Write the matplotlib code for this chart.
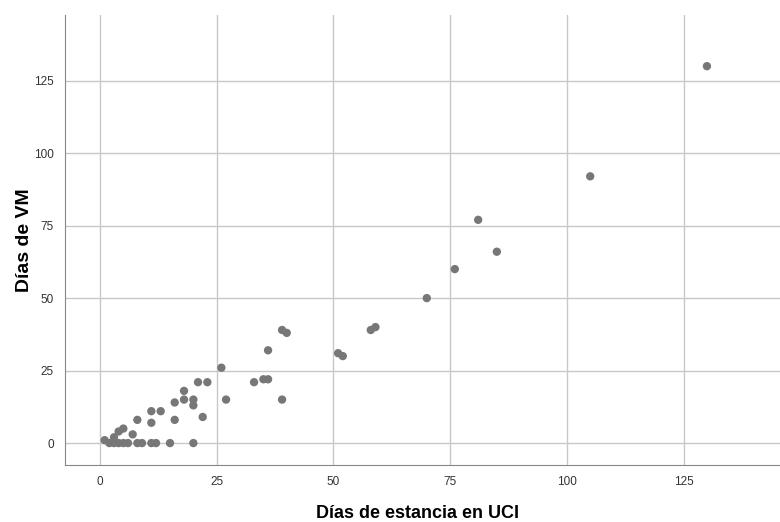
import matplotlib.pyplot as plt

# Días de estancia en UCI vs Días de VM
uci = [1, 2, 3, 4, 5, 6, 8, 9, 11, 12, 15, 20,
       3, 4, 5, 7, 8, 11, 11, 13, 16, 16, 18, 18, 20, 20, 22, 21, 23,
       26, 27, 33, 35, 36, 36, 39, 39, 40, 51, 52, 58, 59,
       70, 76, 81, 85, 105, 130]
vm = [1, 0, 0, 0, 0, 0, 0, 0, 0, 0, 0, 0,
      2, 4, 5, 3, 8, 11, 7, 11, 14, 8, 18, 15, 15, 13, 9, 21, 21,
      26, 15, 21, 22, 22, 32, 15, 39, 38, 31, 30, 39, 40,
      50, 60, 77, 66, 92, 130]
ticks = [0, 25, 50, 75, 100, 125]

plt.rcParams['font.family'] = ['Liberation Sans', 'DejaVu Sans']

fig = plt.figure(figsize=(7.8, 5.22), dpi=100)
ax = fig.add_axes([0.0833, 0.109, 0.917, 0.862])

ax.scatter(uci, vm, s=36, color='#777777', edgecolors='none', zorder=3)

ax.set_xlim(-7.5, 145.7)
ax.set_ylim(-7.6, 147.6)
ax.set_xticks(ticks)
ax.set_yticks(ticks)
ax.grid(True, color='#c8c8c8', linewidth=1)
ax.set_axisbelow(True)
ax.tick_params(length=0, labelsize=8.5, colors='#333333', pad=8)

for side in ['top', 'right']:
    ax.spines[side].set_visible(False)
for side in ['left', 'bottom']:
    ax.spines[side].set_color('#888888')

ax.set_xlabel('Días de estancia en UCI', fontsize=13, fontweight='bold', va='center')
ax.xaxis.set_label_coords(0.493, -0.107)
ax.set_ylabel('Días de VM', fontsize=14, fontweight='bold', va='center')
ax.yaxis.set_label_coords(-0.056, 0.5)

fig.savefig('out.png', dpi=100)
